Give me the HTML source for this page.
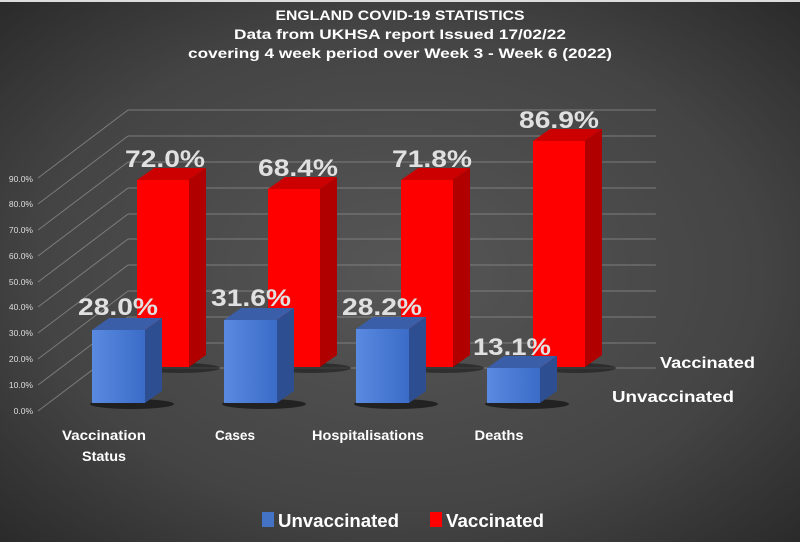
<!DOCTYPE html>
<html><head><meta charset="utf-8"><style>
html,body{margin:0;padding:0;background:#3a3a3a}
svg{display:block;font-family:"Liberation Sans",sans-serif}
</style></head><body>
<svg width="800" height="542" viewBox="0 0 800 542" xmlns="http://www.w3.org/2000/svg">
<defs>
<radialGradient id="bg" cx="0.5" cy="0.5" r="0.75">
<stop offset="0" stop-color="#565656"/><stop offset="0.6" stop-color="#444"/><stop offset="1" stop-color="#262626"/>
</radialGradient>
<linearGradient id="bf" x1="0" y1="0" x2="1" y2="0">
<stop offset="0" stop-color="#5a8ae0"/><stop offset="1" stop-color="#3a6cc8"/>
</linearGradient>
</defs>
<rect width="800" height="542" fill="url(#bg)"/>
<rect x="0" y="0" width="800" height="2" fill="#ddd"/>
<g fill="#fff" font-weight="bold" font-size="14" text-anchor="middle">
<text x="400" y="20" textLength="249" lengthAdjust="spacingAndGlyphs">ENGLAND COVID-19 STATISTICS</text>
<text x="400" y="39" textLength="332" lengthAdjust="spacingAndGlyphs">Data from UKHSA report Issued 17/02/22</text>
<text x="400" y="58" textLength="424" lengthAdjust="spacingAndGlyphs">covering 4 week period over Week 3 - Week 6 (2022)</text>
</g>
<g stroke="#8a8a8a" stroke-width="1" fill="none" opacity="0.8">
<path d="M128 110H656M128 136H656M128 162H656M128 188H656M128 214H656M128 239H656M128 265H656M128 291H656M128 317H656M128 343H656M128 368H656"/>
<path d="M38 411L128 343M38 385L128 317M38 359L128 291M38 333L128 265M38 307L128 239M38 282L128 214M38 256L128 188M38 230L128 162M38 204L128 136M38 178L128 110"/>
</g>
<g fill="#ddd" font-size="8.5" text-anchor="end">
<text x="33" y="414">0.0%</text><text x="33" y="388">10.0%</text><text x="33" y="362">20.0%</text><text x="33" y="336">30.0%</text><text x="33" y="310">40.0%</text><text x="33" y="285">50.0%</text><text x="33" y="259">60.0%</text><text x="33" y="233">70.0%</text><text x="33" y="207">80.0%</text><text x="33" y="182">90.0%</text>
</g>
<g>
<g><ellipse cx="180" cy="368" rx="40" ry="5" fill="#1a1a1a" opacity="0.6"/><rect x="137" y="180" width="52" height="187" fill="#f00"/><path d="M137 180L154 168H206L189 180Z" fill="#c00"/><path d="M189 180L206 168V355L189 367Z" fill="#b00000"/></g>
<g><ellipse cx="311" cy="368" rx="40" ry="5" fill="#1a1a1a" opacity="0.6"/><rect x="268" y="189" width="52" height="178" fill="#f00"/><path d="M268 189L285 177H337L320 189Z" fill="#c00"/><path d="M320 189L337 177V355L320 367Z" fill="#b00000"/></g>
<g><ellipse cx="444" cy="368" rx="40" ry="5" fill="#1a1a1a" opacity="0.6"/><rect x="401" y="180" width="52" height="187" fill="#f00"/><path d="M401 180L418 168H470L453 180Z" fill="#c00"/><path d="M453 180L470 168V355L453 367Z" fill="#b00000"/></g>
<g><ellipse cx="576" cy="368" rx="40" ry="5" fill="#1a1a1a" opacity="0.6"/><rect x="533" y="141" width="52" height="226" fill="#f00"/><path d="M533 141L550 129H602L585 141Z" fill="#c00"/><path d="M585 141L602 129V355L585 367Z" fill="#b00000"/></g>
</g>
<g>
<g><ellipse cx="132" cy="404" rx="42" ry="5" fill="#111" opacity="0.7"/><rect x="92" y="330" width="53" height="73" fill="url(#bf)"/><path d="M92 330L109 318H162L145 330Z" fill="#3a5fa8"/><path d="M145 330L162 318V391L145 403Z" fill="#2d4e90"/></g>
<g><ellipse cx="264" cy="404" rx="42" ry="5" fill="#111" opacity="0.7"/><rect x="224" y="320" width="53" height="83" fill="url(#bf)"/><path d="M224 320L241 308H294L277 320Z" fill="#3a5fa8"/><path d="M277 320L294 308V391L277 403Z" fill="#2d4e90"/></g>
<g><ellipse cx="396" cy="404" rx="42" ry="5" fill="#111" opacity="0.7"/><rect x="356" y="329" width="53" height="74" fill="url(#bf)"/><path d="M356 329L373 317H426L409 329Z" fill="#3a5fa8"/><path d="M409 329L426 317V391L409 403Z" fill="#2d4e90"/></g>
<g><ellipse cx="527" cy="404" rx="42" ry="5" fill="#111" opacity="0.7"/><rect x="487" y="368" width="53" height="35" fill="url(#bf)"/><path d="M487 368L504 356H557L540 368Z" fill="#3a5fa8"/><path d="M540 368L557 356V391L540 403Z" fill="#2d4e90"/></g>
</g>
<g fill="#e0e0e0" font-weight="bold" font-size="24" text-anchor="middle">
<text x="165" y="167" textLength="80" lengthAdjust="spacingAndGlyphs">72.0%</text>
<text x="298" y="176" textLength="80" lengthAdjust="spacingAndGlyphs">68.4%</text>
<text x="432" y="167" textLength="80" lengthAdjust="spacingAndGlyphs">71.8%</text>
<text x="559" y="128" textLength="80" lengthAdjust="spacingAndGlyphs">86.9%</text>
<text x="118" y="315" textLength="80" lengthAdjust="spacingAndGlyphs">28.0%</text>
<text x="251" y="306" textLength="80" lengthAdjust="spacingAndGlyphs">31.6%</text>
<text x="382" y="315" textLength="80" lengthAdjust="spacingAndGlyphs">28.2%</text>
<text x="512" y="355" textLength="78" lengthAdjust="spacingAndGlyphs">13.1%</text>
</g>
<g fill="#fff" font-size="14" text-anchor="middle" font-weight="bold">
<text x="104" y="440" textLength="84" lengthAdjust="spacingAndGlyphs">Vaccination</text>
<text x="104" y="461" textLength="44" lengthAdjust="spacingAndGlyphs">Status</text>
<text x="235" y="440" textLength="40" lengthAdjust="spacingAndGlyphs">Cases</text>
<text x="368" y="440" textLength="112" lengthAdjust="spacingAndGlyphs">Hospitalisations</text>
<text x="499" y="440" textLength="49" lengthAdjust="spacingAndGlyphs">Deaths</text>
</g>
<g fill="#fff" font-weight="bold" font-size="16">
<text x="660" y="368" textLength="95" lengthAdjust="spacingAndGlyphs">Vaccinated</text>
<text x="612" y="402" textLength="122" lengthAdjust="spacingAndGlyphs">Unvaccinated</text>
</g>
<rect x="262" y="512" width="12" height="15" fill="#4472c4"/>
<rect x="430" y="512" width="12" height="15" fill="#f00"/>
<g fill="#fff" font-size="18" font-weight="bold">
<text x="278" y="527" textLength="121" lengthAdjust="spacingAndGlyphs">Unvaccinated</text>
<text x="446" y="527" textLength="98" lengthAdjust="spacingAndGlyphs">Vaccinated</text>
</g>
</svg>
</body></html>
